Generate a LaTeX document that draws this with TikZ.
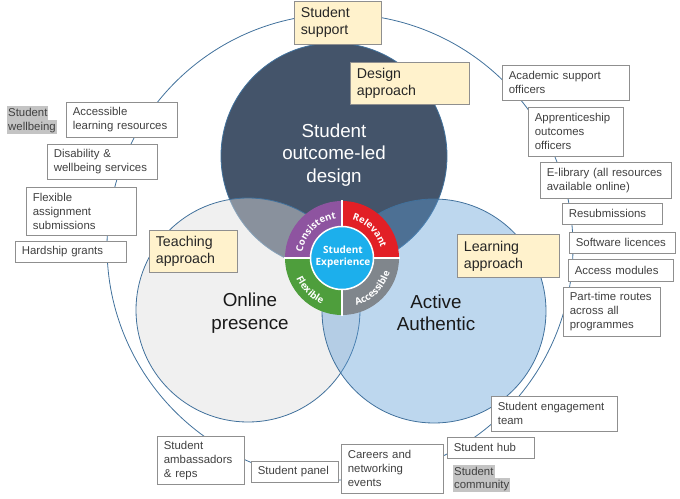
\documentclass[tikz,border=0pt]{standalone}
\usepackage{fontspec}
\setmainfont{Liberation Sans}
\newfontfamily\wheelfont{Open Sans}
\usetikzlibrary{decorations.text}
\definecolor{navy}{HTML}{44546A}
\definecolor{ringblue}{HTML}{5B9BD5}
\definecolor{edgeblue}{HTML}{41719C}
\definecolor{lgray}{HTML}{DDDDDD}
\definecolor{ylw}{HTML}{FFF2CC}
\definecolor{bordergray}{HTML}{8F8F8F}
\definecolor{hlgray}{HTML}{C4C4C4}
\definecolor{txtgray}{HTML}{404040}
\definecolor{cpurple}{HTML}{8E54A0}
\definecolor{cred}{HTML}{E21F26}
\definecolor{cgray}{HTML}{80868C}
\definecolor{cgreen}{HTML}{4E9E3C}
\definecolor{ccyan}{HTML}{1CAFEC}
\tikzset{
  wbox/.style={draw=bordergray, fill=white, line width=0.75pt, anchor=north west,
    inner xsep=6.5pt, inner ysep=0pt, align=left, text=txtgray,
    font=\fontsize{11.4}{14}\selectfont},
  ybox/.style={wbox, fill=ylw, text=black!85, font=\fontsize{14.2}{17}\selectfont},
  hl/.style={fill=hlgray, anchor=west, inner xsep=1pt, inner ysep=1pt, text=txtgray,
    text height=8.6pt, text depth=2.6pt, font=\fontsize{11.4}{14}\selectfont},
  bigtxt/.style={align=center, font=\fontsize{18.8}{22.5}\selectfont},
  arctxt/.style={decorate, decoration={text along path, text align=center, text color=white,
    text={|\wheelfont\bfseries\fontsize{9.6}{11}\selectfont|#1}}},
  orbit/.style={draw=edgeblue, line width=0.8pt}
}
\begin{document}
\begin{tikzpicture}[x=1pt, y=-1pt]
\useasboundingbox (0,0) rectangle (680,498);
% outer ring
\draw[orbit] (340,247) circle (233pt);
% three circles
\fill[navy] (334,156) circle (113pt);
\draw[orbit] (334,156) circle (113pt);
\filldraw[fill=lgray, fill opacity=0.45, draw=edgeblue, line width=0.8pt] (248,310) circle (112pt);
\filldraw[fill=ringblue, fill opacity=0.4, draw=edgeblue, line width=0.8pt] (434,311) circle (112pt);
\node[bigtxt, text=white] (sold) at (334,155) {Student\\outcome-led\\design};
\node[bigtxt, text=black!90] (online) at (250,313) {Online\\presence};
\node[bigtxt, text=black!90] (active) at (436,313) {Active\\Authentic};
% wheel
\begin{scope}[shift={(342,258)}, y=1pt]
  \fill[cpurple] (90:57) arc (90:180:57) -- (180:32) arc (180:90:32) -- cycle;
  \fill[cred] (0:57) arc (0:90:57) -- (90:32) arc (90:0:32) -- cycle;
  \fill[cgreen] (180:57) arc (180:270:57) -- (270:32) arc (270:180:32) -- cycle;
  \fill[cgray] (270:57) arc (270:360:57) -- (0:32) arc (360:270:32) -- cycle;
  \draw[white, line width=2pt] (-58,0) -- (58,0);
  \draw[white, line width=2pt] (0,-58) -- (0,58);
  \fill[ccyan] (0,0) circle (31pt);
  \draw[white, line width=1.5pt] (0,0) circle (31.5pt);
  \path[arctxt=Consistent] (178:40) arc (178:92:40);
  \path[arctxt=Relevant] (88:40) arc (88:2:40);
  \path[arctxt=Flexible] (182:50) arc (182:268:50);
  \path[arctxt=Accessible] (272:50) arc (272:358:50);
\end{scope}
\node[align=center, text=white, font=\wheelfont\bfseries\fontsize{10}{12.5}\selectfont] (se) at (343,257) {Student\\Experience};
% yellow boxes
\node[ybox, text width=74pt, minimum height=43pt] (sup) at (294,0.5) {Student\\support};
\node[ybox, text width=106pt, minimum height=42pt] (des) at (350,62) {Design\\approach};
\node[ybox, text width=75pt, minimum height=42pt] (teach) at (149,230) {Teaching\\approach};
\node[ybox, text width=89pt, minimum height=43pt] (learn) at (457,234) {Learning\\approach};
% left boxes
\node[hl] (wb1) at (7,113) {Student};
\node[hl] (wb2) at (7,127) {wellbeing};
\node[wbox, text width=98pt, minimum height=35pt] (acc) at (66,102) {Accessible\\learning resources};
\node[wbox, text width=97pt, minimum height=35pt] (dis) at (47,144) {Disability \&\\wellbeing services};
\node[wbox, text width=97pt, minimum height=48pt] (flex) at (26,187) {Flexible\\assignment\\submissions};
\node[wbox, text width=98pt, minimum height=21pt] (hard) at (15,241) {Hardship grants};
% right boxes
\node[wbox, text width=114pt, minimum height=35pt] (aso) at (502,65) {Academic support\\officers};
\node[wbox, text width=82pt, minimum height=49pt] (app) at (528,107) {Apprenticeship\\outcomes\\officers};
\node[wbox, text width=118pt, minimum height=36pt] (elib) at (540,162) {E-library (all resources\\available online)};
\node[wbox, text width=87pt, minimum height=21pt] (resub) at (562,203) {Resubmissions};
\node[wbox, text width=93pt, minimum height=21pt] (soft) at (569,232) {Software licences};
\node[wbox, text width=92pt, minimum height=22pt] (accm) at (568,259) {Access modules};
\node[wbox, text width=84pt, minimum height=49pt] (part) at (563,287) {Part-time routes\\across all\\programmes};
% bottom boxes
\node[wbox, text width=113pt, minimum height=35pt] (eng) at (491,396) {Student engagement\\team};
\node[wbox, text width=74pt, minimum height=21pt] (hub) at (447,437) {Student hub};
\node[hl] (sc1) at (453,472) {Student};
\node[hl] (sc2) at (453,485) {community};
\node[wbox, text width=89pt, minimum height=49pt] (car) at (341,444) {Careers and\\networking\\events};
\node[wbox, text width=74pt, minimum height=21pt] (panel) at (251,461) {Student panel};
\node[wbox, text width=74pt, minimum height=48pt] (amb) at (157,436) {Student\\ambassadors\\\& reps};
\end{tikzpicture}
\end{document}
